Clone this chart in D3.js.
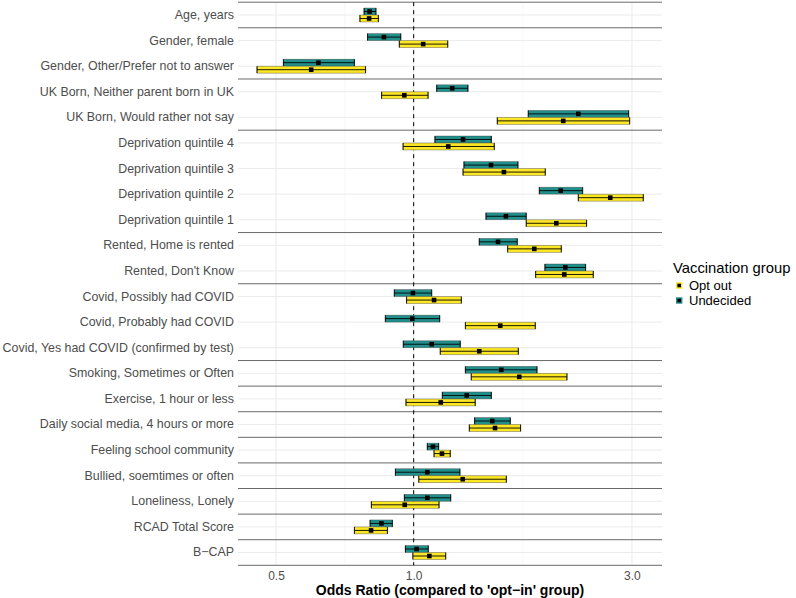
<!DOCTYPE html>
<html><head><meta charset="utf-8">
<script src="https://cdn.jsdelivr.net/npm/d3@7"></script>
<style>
body{margin:0;background:#fff;}
svg{display:block;font-family:"Liberation Sans",Arial,sans-serif;}
</style></head>
<body>
<svg id="chart" width="796" height="598"></svg>
<script>
const categories = ["Age, years","Gender, female","Gender, Other/Prefer not to answer","UK Born, Neither parent born in UK","UK Born, Would rather not say","Deprivation quintile 4","Deprivation quintile 3","Deprivation quintile 2","Deprivation quintile 1","Rented, Home is rented","Rented, Don't Know","Covid, Possibly had COVID","Covid, Probably had COVID","Covid, Yes had COVID (confirmed by test)","Smoking, Sometimes or Often","Exercise, 1 hour or less","Daily social media, 4 hours or more","Feeling school community","Bullied, soemtimes or often","Loneliness, Lonely","RCAD Total Score","B\u2212CAP"];
const groups = ["Age","Gender","Gender","UK","UK","Dep","Dep","Dep","Dep","Rented","Rented","Covid","Covid","Covid","Smoking","Exercise","Social","School","Bullied","Loneliness","RCAD","BCAP"];

const undecidedOR = [0.801,0.861,0.619,1.214,2.290,1.282,1.476,2.096,1.591,1.529,2.145,0.996,0.993,1.095,1.554,1.306,1.485,1.102,1.071,1.071,0.850,1.015];
const undecidedLo = [0.779,0.793,0.519,1.123,1.780,1.113,1.288,1.882,1.439,1.391,1.936,0.907,0.867,0.949,1.297,1.155,1.359,1.071,0.912,0.954,0.803,0.959];
const undecidedHi = [0.827,0.937,0.742,1.314,2.951,1.478,1.690,2.341,1.762,1.684,2.376,1.095,1.140,1.264,1.860,1.478,1.626,1.134,1.262,1.205,0.898,1.076];

const optoutOR = [0.799,1.049,0.597,0.954,2.123,1.190,1.575,2.690,2.050,1.835,2.134,1.108,1.546,1.391,1.701,1.146,1.506,1.153,1.280,0.956,0.807,1.082];
const optoutLo = [0.763,0.930,0.4545,0.851,1.523,0.948,1.282,2.290,1.762,1.605,1.848,0.965,1.297,1.143,1.336,0.962,1.323,1.108,1.026,0.808,0.742,0.996];
const optoutHi = [0.837,1.187,0.785,1.075,2.966,1.500,1.939,3.176,2.388,2.102,2.469,1.271,1.844,1.693,2.163,1.363,1.713,1.202,1.594,1.136,0.876,1.175];

const seriesNames = ["Opt out","Undecided"];
const seriesColors = ["#FDE725","#21908C"];
const xTicks = [0.5, 1, 3];
const xTickLabels = ["0.5","1.0","3.0"];
const refValue = 1;

const svg = d3.select("#chart");
const L = 238, R = 662, T = 2.2, B = 565.3;

const x = d3.scaleLog().domain([0.413, 3.49]).range([L, R]);
const y = d3.scaleBand().domain(categories).range([T, B]).padding(0);
const step = y.step();
const yc = c => y(c) + step / 2;

const g = svg.append("g");

// minor vertical grid (geometric midpoints between major ticks)
const minor = [];
for (let i = 0; i < xTicks.length - 1; i++) minor.push(Math.sqrt(xTicks[i] * xTicks[i + 1]));
g.selectAll(".vminor").data(minor).join("line")
  .attr("x1", d => x(d)).attr("x2", d => x(d)).attr("y1", T).attr("y2", B)
  .attr("stroke", "#f2f2f2").attr("stroke-width", 0.6);
g.selectAll(".vmajor").data(xTicks).join("line")
  .attr("x1", d => x(d)).attr("x2", d => x(d)).attr("y1", T).attr("y2", B)
  .attr("stroke", "#ebebeb").attr("stroke-width", 1);
// horizontal grid at rows
g.selectAll(".hgrid").data(categories).join("line")
  .attr("x1", L).attr("x2", R).attr("y1", d => yc(d)).attr("y2", d => yc(d))
  .attr("stroke", "#ebebeb").attr("stroke-width", 1);

// group separators
const seps = [T];
for (let i = 1; i < categories.length; i++) if (groups[i] !== groups[i - 1]) seps.push(y(categories[i]));
seps.push(B);
g.selectAll(".sep").data(seps).join("line")
  .attr("x1", L).attr("x2", R).attr("y1", d => d).attr("y2", d => d)
  .attr("stroke", "#6a6a6a").attr("stroke-width", 1);

// reference line
g.append("line").attr("x1", x(refValue)).attr("x2", x(refValue)).attr("y1", T).attr("y2", B)
  .attr("stroke", "#000").attr("stroke-width", 1).attr("stroke-dasharray", "4,4");

const barH = step * 0.27;
const off = step * 0.137;
const series = [
  {name: "Undecided", color: seriesColors[1], or: undecidedOR, lo: undecidedLo, hi: undecidedHi, dy: -off},
  {name: "Opt out", color: seriesColors[0], or: optoutOR, lo: optoutLo, hi: optoutHi, dy: off}
];
series.forEach(s => {
  const data = categories.map((c, i) => ({c, or: s.or[i], lo: s.lo[i], hi: s.hi[i]}));
  const sg = g.append("g");
  sg.selectAll("rect.bar").data(data).join("rect")
    .attr("x", d => x(d.lo)).attr("width", d => x(d.hi) - x(d.lo))
    .attr("y", d => yc(d.c) + s.dy - barH / 2).attr("height", barH)
    .attr("fill", s.color).attr("stroke", "rgba(60,60,60,0.55)").attr("stroke-width", 0.7);
  sg.selectAll("line.h").data(data).join("line")
    .attr("x1", d => x(d.lo)).attr("x2", d => x(d.hi))
    .attr("y1", d => yc(d.c) + s.dy).attr("y2", d => yc(d.c) + s.dy)
    .attr("stroke", "#000").attr("stroke-width", 0.9);
  ["lo", "hi"].forEach(k => {
    sg.selectAll("line.c" + k).data(data).join("line")
      .attr("x1", d => x(d[k])).attr("x2", d => x(d[k]))
      .attr("y1", d => yc(d.c) + s.dy - barH / 2).attr("y2", d => yc(d.c) + s.dy + barH / 2)
      .attr("stroke", "#000").attr("stroke-width", 0.9);
  });
  const ps = 4.6;
  sg.selectAll("rect.pt").data(data).join("rect")
    .attr("x", d => x(d.or) - ps / 2).attr("y", d => yc(d.c) + s.dy - ps / 2)
    .attr("width", ps).attr("height", ps).attr("fill", "#000");
});

// axes
const xa = svg.append("g").attr("transform", `translate(0,${B})`)
  .call(d3.axisBottom(x).tickValues(xTicks).tickFormat((d, i) => xTickLabels[i]).tickSize(0).tickPadding(6.5));
xa.select(".domain").remove();
xa.selectAll("text").attr("font-size", 12).attr("fill", "#4d4d4d").attr("font-family", "Liberation Sans, Arial, sans-serif");

const ya = svg.append("g").attr("transform", `translate(${L},0)`)
  .call(d3.axisLeft(y).tickSize(0).tickPadding(4));
ya.select(".domain").remove();
ya.selectAll("text").attr("font-size", 12.4).attr("fill", "#4d4d4d").attr("font-family", "Liberation Sans, Arial, sans-serif");

svg.append("text").attr("x", (L + R) / 2).attr("y", 595).attr("text-anchor", "middle")
  .attr("font-size", 14).attr("font-weight", "bold").attr("fill", "#000")
  .text("Odds Ratio (compared to 'opt\u2212in' group)");

// legend
const lg = svg.append("g").attr("transform", "translate(673,0)");
lg.append("text").attr("x", 0).attr("y", 272.5).attr("font-size", 14.8).attr("fill", "#000").text("Vaccination group");
seriesNames.forEach((n, i) => {
  const cy = 285.5 + i * 15;
  lg.append("rect").attr("x", 3).attr("y", cy - 3.2).attr("width", 6.4).attr("height", 6.4).attr("fill", seriesColors[i]);
  lg.append("rect").attr("x", 4.4).attr("y", cy - 1.8).attr("width", 3.6).attr("height", 3.6).attr("fill", "#000");
  lg.append("text").attr("x", 16).attr("y", cy + 4.5).attr("font-size", 13).attr("fill", "#000").text(n);
});
</script>
</body></html>
